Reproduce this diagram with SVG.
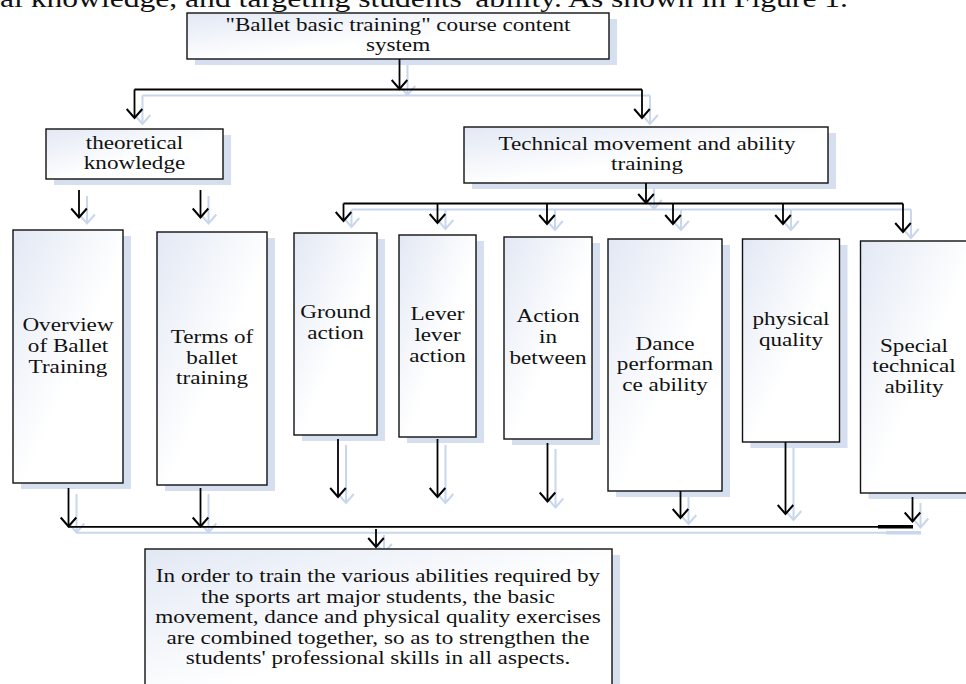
<svg xmlns="http://www.w3.org/2000/svg" xmlns:xlink="http://www.w3.org/1999/xlink" width="966" height="684" viewBox="0 0 966 684">
<defs>
<style>
.box{fill:url(#bg);stroke:#111;stroke-width:1.4}
.sh{fill:#d5dff0}
.t{font-family:"Liberation Serif","Times New Roman",serif;font-size:18.5px;fill:#111;text-anchor:middle}
.c{stroke:#000;stroke-width:1.8;fill:none;marker-end:url(#ah)}
.cs{stroke:#c9d7ed;stroke-width:2;fill:none;marker-end:url(#ahs)}
.nm{marker-end:none}
</style>
<linearGradient id="bg" x1="0" y1="0" x2="1" y2="1">
<stop offset="0" stop-color="#e2e8f4"/>
<stop offset="0.55" stop-color="#ffffff"/>
</linearGradient>
<marker id="ah" viewBox="-12 -10 14 20" markerWidth="14" markerHeight="20" refX="0" refY="0" orient="auto" markerUnits="userSpaceOnUse">
<path d="M-9,-7.8 L0,0 L-9,7.8" fill="none" stroke="#000" stroke-width="2"/>
</marker>
<marker id="ahs" viewBox="-12 -10 14 20" markerWidth="14" markerHeight="20" refX="0" refY="0" orient="auto" markerUnits="userSpaceOnUse">
<path d="M-9,-7.8 L0,0 L-9,7.8" fill="none" stroke="#c9d7ed" stroke-width="2"/>
</marker>
</defs>
<rect width="966" height="684" fill="#fff"/>

<text x="0" y="7" textLength="848" lengthAdjust="spacingAndGlyphs" style="font-family:'Liberation Serif','Times New Roman',serif;font-size:25px;fill:#111">al knowledge, and targeting students' ability. As shown in Figure 1.</text>

<use xlink:href="#conn-paths" class="cs" transform="translate(8 6)"/>

<g id="nodes">
<g id="n-top">
<rect class="sh" x="195" y="19" width="422" height="46"/>
<rect class="box" x="187" y="13" width="422" height="46"/>
<text class="t" transform="translate(398 0) scale(1.25 1)"><tspan x="0" y="31">"Ballet basic training" course content</tspan><tspan x="0" y="51.5">system</tspan></text>
</g>
<g id="n-theory">
<rect class="sh" x="54" y="135" width="177" height="50"/>
<rect class="box" x="46" y="129" width="177" height="50"/>
<text class="t" transform="translate(134.5 0) scale(1.25 1)"><tspan x="0" y="149.5">theoretical</tspan><tspan x="0" y="169.5">knowledge</tspan></text>
</g>
<g id="n-tech">
<rect class="sh" x="472" y="133" width="364" height="56"/>
<rect class="box" x="464" y="127" width="364" height="56"/>
<text class="t" transform="translate(647 0) scale(1.25 1)"><tspan x="0" y="150">Technical movement and ability</tspan><tspan x="0" y="170.5">training</tspan></text>
</g>
<g id="n-overview">
<rect class="sh" x="21" y="236" width="110" height="253"/>
<rect class="box" x="13" y="230" width="110" height="253"/>
<text class="t" transform="translate(68 0) scale(1.25 1)"><tspan x="0" y="331.5">Overview</tspan><tspan x="0" y="352.3">of Ballet</tspan><tspan x="0" y="372.8">Training</tspan></text>
</g>
<g id="n-terms">
<rect class="sh" x="165" y="238" width="110" height="253"/>
<rect class="box" x="157" y="232" width="110" height="253"/>
<text class="t" transform="translate(212 0) scale(1.25 1)"><tspan x="0" y="343.3">Terms of</tspan><tspan x="0" y="364">ballet</tspan><tspan x="0" y="384">training</tspan></text>
</g>
<g id="n-ground">
<rect class="sh" x="302" y="239" width="83" height="202"/>
<rect class="box" x="294" y="233" width="83" height="202"/>
<text class="t" transform="translate(335.5 0) scale(1.25 1)"><tspan x="0" y="318.3">Ground</tspan><tspan x="0" y="339">action</tspan></text>
</g>
<g id="n-lever">
<rect class="sh" x="407" y="241" width="77" height="202"/>
<rect class="box" x="399" y="235" width="77" height="202"/>
<text class="t" transform="translate(437.5 0) scale(1.25 1)"><tspan x="0" y="320">Lever</tspan><tspan x="0" y="340.7">lever</tspan><tspan x="0" y="361.7">action</tspan></text>
</g>
<g id="n-action">
<rect class="sh" x="512" y="243" width="88" height="202"/>
<rect class="box" x="504" y="237" width="88" height="202"/>
<text class="t" transform="translate(548 0) scale(1.25 1)"><tspan x="0" y="321.7">Action</tspan><tspan x="0" y="343.5">in</tspan><tspan x="0" y="364">between</tspan></text>
</g>
<g id="n-dance">
<rect class="sh" x="616" y="245" width="114" height="252"/>
<rect class="box" x="608" y="239" width="114" height="252"/>
<text class="t" transform="translate(665 0) scale(1.25 1)"><tspan x="0" y="350">Dance</tspan><tspan x="0" y="370.3">performan</tspan><tspan x="0" y="390.7">ce ability</tspan></text>
</g>
<g id="n-physical">
<rect class="sh" x="750.5" y="245" width="97" height="203"/>
<rect class="box" x="742.5" y="239" width="97" height="203"/>
<text class="t" transform="translate(791 0) scale(1.25 1)"><tspan x="0" y="325">physical</tspan><tspan x="0" y="345.7">quality</tspan></text>
</g>
<g id="n-special">
<rect class="sh" x="868.5" y="247" width="108" height="252"/>
<rect class="box" x="860.5" y="241" width="108" height="252"/>
<text class="t" transform="translate(914 0) scale(1.25 1)"><tspan x="0" y="351.7">Special</tspan><tspan x="0" y="372.3">technical</tspan><tspan x="0" y="393.3">ability</tspan></text>
</g>
<g id="n-summary">
<rect class="sh" x="153" y="555" width="467" height="150"/>
<rect class="box" x="145" y="549" width="467" height="150"/>
<text class="t" transform="translate(378 0) scale(1.25 1)"><tspan x="0" y="582.5">In order to train the various abilities required by</tspan><tspan x="0" y="603">the sports art major students, the basic</tspan><tspan x="0" y="623.5">movement, dance and physical quality exercises</tspan><tspan x="0" y="644">are combined together, so as to strengthen the</tspan><tspan x="0" y="664.5">students' professional skills in all aspects.</tspan></text>
</g>
</g>

<g id="connectors" class="c">
<g id="conn-paths">
<path d="M399.5,59 V89"/>
<path class="nm" d="M134.5,89.5 H642"/>
<path d="M134.5,89.5 V118"/>
<path d="M642,89.5 V118"/>
<path d="M79,190 V217.5"/>
<path d="M200.5,190 V217.5"/>
<path d="M646,183 V203"/>
<path class="nm" d="M343.5,203.5 H903"/>
<path d="M343.5,203.5 V221"/>
<path d="M437.5,203.5 V223"/>
<path d="M547,203.5 V224"/>
<path d="M673,203.5 V224"/>
<path d="M783,203.5 V224"/>
<path d="M903,203.5 V232"/>
<path d="M68.5,488 V526.5"/>
<path d="M200.5,488 V526.5"/>
<path d="M338,439 V497"/>
<path d="M437.5,439 V497"/>
<path d="M547.5,443 V501.5"/>
<path d="M680.5,491 V518"/>
<path d="M785.5,442 V514"/>
<path d="M912.5,497 V521.5"/>
<path class="nm" d="M68.5,526.8 H913"/>
<path class="nm" d="M878,526.8 H913" stroke-width="3.5"/>
<path d="M376,529 V547"/>
</g>
</g>
</svg>
